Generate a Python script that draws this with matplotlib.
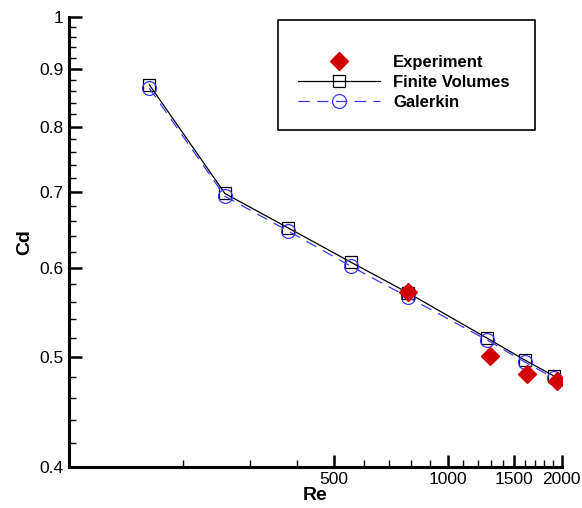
import matplotlib

matplotlib.use("Agg")
import matplotlib.pyplot as plt
from matplotlib.patches import Rectangle
from matplotlib.ticker import FixedLocator, FixedFormatter, NullFormatter

plt.rcParams["font.family"] = ["Liberation Sans", "DejaVu Sans"]

# Reynolds numbers of the computed cases
re_sim = [163, 258, 378, 554, 786, 1268, 1600, 1912]
cd_fv = [0.871, 0.698, 0.651, 0.607, 0.570, 0.520, 0.497, 0.481]
cd_galerkin = [0.865, 0.694, 0.647, 0.602, 0.565, 0.518, 0.495, 0.479]

# experimental points
re_exp = [784, 1291, 1620, 1942]
cd_exp = [0.571, 0.501, 0.483, 0.476]

x_major = [500, 1000, 1500, 2000]
x_major_labels = ["500", "1000", "1500", "2000"]
x_minor = [200, 300, 400, 600, 700, 800, 900, 1100, 1200, 1300, 1400,
           1600, 1700, 1800, 1900]
y_major = [0.4, 0.5, 0.6, 0.7, 0.8, 0.9, 1.0]
y_major_labels = ["0.4", "0.5", "0.6", "0.7", "0.8", "0.9", "1"]
y_minor = [round(0.4 + 0.02 * i, 2) for i in range(31) if i % 5 != 0]

W, H = 582, 508
fig = plt.figure(figsize=(W / 100, H / 100), dpi=100)
ax = fig.add_axes([0.1186, 0.0813, 0.8465, 0.8852])

ax.plot(re_exp, cd_exp, linestyle="none", marker="D", markersize=9,
        color="#d00000", label="Experiment", zorder=4)
ax.plot(re_sim, cd_fv, color="black", lw=0.9, marker="s", markersize=9,
        markerfacecolor="none", markeredgecolor="black", markeredgewidth=0.9,
        label="Finite Volumes", zorder=3)
ax.plot(re_sim, cd_galerkin, color="#3a3aff", lw=0.9, dashes=(9, 6),
        marker="o", markersize=10, markerfacecolor="none",
        markeredgecolor="#3a3aff", markeredgewidth=0.9, label="Galerkin",
        zorder=3)

ax.set_xscale("log")
ax.set_yscale("log")
ax.set_xlim(100, 2000)
ax.set_ylim(0.4, 1.0)

ax.xaxis.set_major_locator(FixedLocator(x_major))
ax.xaxis.set_major_formatter(FixedFormatter(x_major_labels))
ax.xaxis.set_minor_locator(FixedLocator(x_minor))
ax.xaxis.set_minor_formatter(NullFormatter())
ax.yaxis.set_major_locator(FixedLocator(y_major))
ax.yaxis.set_major_formatter(FixedFormatter(y_major_labels))
ax.yaxis.set_minor_locator(FixedLocator(y_minor))
ax.yaxis.set_minor_formatter(NullFormatter())

for side in ["top", "right"]:
    ax.spines[side].set_visible(False)
for side in ["left", "bottom"]:
    ax.spines[side].set_linewidth(2.2)

ax.tick_params(which="major", direction="in", length=9, width=1.8,
               labelsize=12.5, pad=4)
ax.tick_params(which="minor", direction="in", length=5, width=1.0)

ax.set_xlabel("Re", fontsize=14, fontweight="bold", labelpad=0)
ax.set_ylabel("Cd", fontsize=14, fontweight="bold", labelpad=4)

# legend entries without frame, the box is drawn separately
leg = ax.legend(loc="upper left", bbox_to_anchor=(298 / W, 1 - 55 / H),
                bbox_transform=fig.transFigure, fontsize=12, frameon=False,
                borderpad=0, handlelength=4.9, handletextpad=0.8,
                labelspacing=0.3, borderaxespad=0)
for t in leg.get_texts():
    t.set_fontweight("bold")

fig.patches.append(Rectangle((278 / W, 1 - 130 / H), 257 / W, 110 / H,
                             transform=fig.transFigure, fill=False,
                             edgecolor="black", linewidth=1.2, zorder=5))

fig.savefig("out.png", dpi=100)
